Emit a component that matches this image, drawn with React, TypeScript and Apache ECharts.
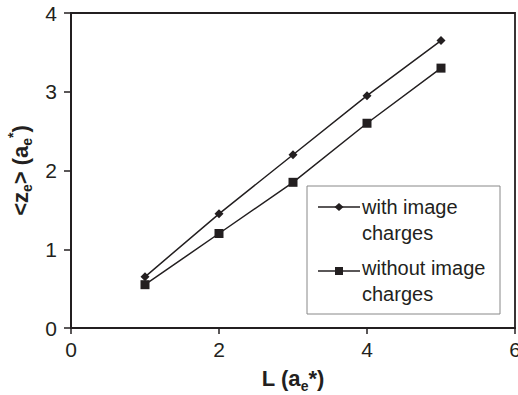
import React, { useEffect, useRef } from "react";
import * as echarts from "echarts";

const xValues = [1, 2, 3, 4, 5];
const withCharges = [0.65, 1.45, 2.2, 2.95, 3.65];
const withoutCharges = [0.55, 1.2, 1.85, 2.6, 3.3];
const seriesNames = ["with image\ncharges", "without image\ncharges"];

const INK = "#231f20";
const FONT = "Liberation Sans, Arial, sans-serif";

export default function App() {
  const ref = useRef<HTMLDivElement>(null);
  useEffect(() => {
    if (!ref.current) return;
    const chart = echarts.init(ref.current, undefined, { renderer: "svg" });
    const nameRich = {
      b: { fontSize: 22, fontWeight: "bold", color: INK, fontFamily: FONT, lineHeight: 24 },
      s: { fontSize: 14, fontWeight: "bold", color: INK, fontFamily: FONT, lineHeight: 14, padding: [14, 0, 0, 0] },
      p: { fontSize: 14, fontWeight: "bold", color: INK, fontFamily: FONT, lineHeight: 14, padding: [0, 0, 14, 0] },
    };
    chart.setOption({
      animation: false,
      textStyle: { fontFamily: FONT },
      grid: {
        left: 71,
        right: 3,
        top: 13,
        bottom: 67,
        show: true,
        borderColor: INK,
        borderWidth: 1.8,
        backgroundColor: "transparent",
        outerBoundsMode: "none",
        containLabel: false,
      },
      xAxis: {
        type: "value",
        min: 0,
        max: 6,
        interval: 2,
        name: "{b|L (a}{s|e}{b|*)}",
        nameLocation: "middle",
        nameGap: 37,
        nameTextStyle: { rich: nameRich },
        axisLine: { lineStyle: { color: INK, width: 2 } },
        axisTick: { show: true, inside: false, length: 6, lineStyle: { color: INK, width: 1.5 } },
        axisLabel: { fontSize: 21, color: INK, margin: 11, fontFamily: FONT },
        splitLine: { show: false },
      },
      yAxis: {
        type: "value",
        min: 0,
        max: 4,
        interval: 1,
        name: "{b|<z}{s|e}{b|> (a}{s|e}{p|*}{b|)}",
        nameLocation: "middle",
        nameGap: 36,
        nameRotate: 90,
        nameTextStyle: { rich: nameRich },
        axisLine: { show: true, lineStyle: { color: INK, width: 2 } },
        axisTick: { show: true, inside: false, length: 7, lineStyle: { color: INK, width: 1.5 } },
        axisLabel: { fontSize: 21, color: INK, margin: 14, fontFamily: FONT },
        splitLine: { show: false },
      },
      graphic: [
        {
          type: "group",
          z: 100,
          children: [
            {
              type: "rect",
              shape: { x: 307, y: 186, width: 193, height: 128 },
              style: { fill: "#fff", stroke: "#888", lineWidth: 1 },
            },
            {
              type: "line",
              shape: { x1: 318, y1: 207, x2: 360, y2: 207 },
              style: { stroke: INK, lineWidth: 1.5 },
            },
            {
              type: "polygon",
              shape: { points: [[339, 203], [343.5, 207], [339, 211], [334.5, 207]] },
              style: { fill: INK },
            },
            {
              type: "text",
              x: 362,
              y: 194,
              style: {
                text: seriesNames[0],
                fontSize: 20,
                lineHeight: 26,
                fontFamily: FONT,
                fill: INK,
                verticalAlign: "top",
                align: "left",
              },
            },
            {
              type: "line",
              shape: { x1: 318, y1: 271, x2: 360, y2: 271 },
              style: { stroke: INK, lineWidth: 1.5 },
            },
            {
              type: "rect",
              shape: { x: 335, y: 267, width: 8, height: 8 },
              style: { fill: INK },
            },
            {
              type: "text",
              x: 362,
              y: 255,
              style: {
                text: seriesNames[1],
                fontSize: 20,
                lineHeight: 26,
                fontFamily: FONT,
                fill: INK,
                verticalAlign: "top",
                align: "left",
              },
            },
          ],
        },
      ],
      series: [
        {
          name: seriesNames[0],
          type: "line",
          data: xValues.map((x, i) => [x, withCharges[i]]),
          symbol: "diamond",
          symbolSize: 9,
          lineStyle: { color: INK, width: 1.5 },
          itemStyle: { color: INK },
        },
        {
          name: seriesNames[1],
          type: "line",
          data: xValues.map((x, i) => [x, withoutCharges[i]]),
          symbol: "rect",
          symbolSize: 9,
          lineStyle: { color: INK, width: 1.5 },
          itemStyle: { color: INK },
        },
      ],
    });
    return () => chart.dispose();
  }, []);
  return <div ref={ref} style={{ width: 518, height: 395, position: "absolute", left: 0, top: 0 }} />;
}
